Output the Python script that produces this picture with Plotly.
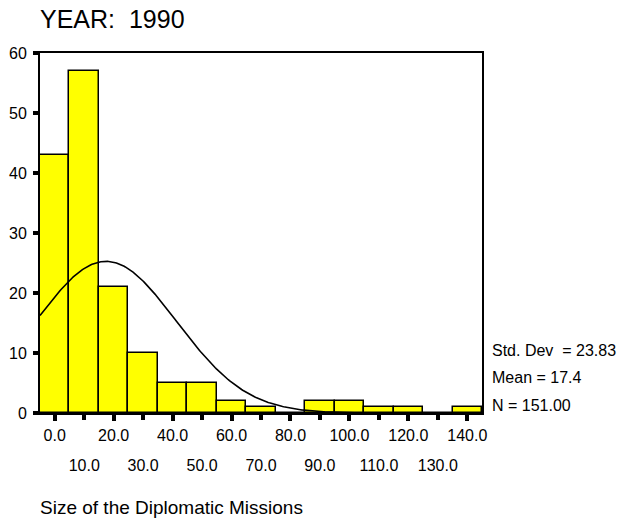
import numpy as np
import plotly.graph_objects as go

# ---- data ----
bin_centers = [0, 10, 20, 30, 40, 50, 60, 70, 80, 90, 100, 110, 120, 130, 140]
counts = [43, 57, 21, 10, 5, 5, 2, 1, 0, 2, 2, 1, 1, 0, 1]
even_ticks = [0, 20, 40, 60, 80, 100, 120, 140]
even_labels = ["0.0", "20.0", "40.0", "60.0", "80.0", "100.0", "120.0", "140.0"]
odd_ticks = [10, 30, 50, 70, 90, 110, 130]
odd_labels = ["10.0", "30.0", "50.0", "70.0", "90.0", "110.0", "130.0"]
y_ticks = [0, 10, 20, 30, 40, 50, 60]
std_dev = 23.83
mean = 17.4
n = 151
bin_width = 10

FONT = "Liberation Sans, Arial, sans-serif"

# normal curve defined by the printed statistics
xc = np.linspace(-5, 145, 400)
yc = n * bin_width / (std_dev * np.sqrt(2 * np.pi)) * np.exp(-0.5 * ((xc - mean) / std_dev) ** 2)

fig = go.Figure()
fig.add_trace(go.Bar(
    x=bin_centers, y=counts, width=bin_width,
    marker=dict(color="#ffff00", line=dict(color="black", width=1.5)),
    showlegend=False, hoverinfo="x+y",
))
fig.add_trace(go.Scatter(
    x=xc, y=yc, mode="lines", line=dict(color="black", width=1.6),
    showlegend=False, hoverinfo="skip",
))
fig.add_trace(go.Scatter(
    x=[odd_ticks[0]], y=[0], xaxis="x2", mode="markers",
    marker=dict(opacity=0), showlegend=False, hoverinfo="skip",
))

fig.update_layout(
    width=620, height=521,
    margin=dict(l=40, r=138, t=53, b=108),
    paper_bgcolor="white", plot_bgcolor="white",
    bargap=0,
    font=dict(family=FONT, color="black"),
    xaxis=dict(
        range=[-5, 145], tickvals=even_ticks, ticktext=even_labels,
        showline=True, linecolor="black", linewidth=2, mirror=True,
        ticks="outside", ticklen=6, tickwidth=4, tickcolor="black",
        showgrid=False, zeroline=False, tickfont=dict(size=16),
        ticklabelstandoff=1, automargin=False,
    ),
    xaxis2=dict(
        range=[-5, 145], overlaying="x", anchor="y", side="bottom",
        tickvals=odd_ticks, ticktext=odd_labels,
        ticks="outside", ticklen=6, tickwidth=4, tickcolor="black",
        showline=False, showgrid=False, zeroline=False, tickfont=dict(size=16),
        ticklabelstandoff=32, automargin=False,
    ),
    yaxis=dict(
        range=[0, 60], tickvals=y_ticks,
        showline=True, linecolor="black", linewidth=2, mirror=True,
        ticks="outside", ticklen=5, tickwidth=4, tickcolor="black",
        showgrid=False, zeroline=False, tickfont=dict(size=16),
        ticklabelstandoff=3, automargin=False,
    ),
    annotations=[
        dict(text="YEAR:\u00a0\u00a01990", xref="paper", yref="paper",
             x=-0.005, y=1.094, xanchor="left", yanchor="middle",
             showarrow=False, font=dict(size=25)),
        dict(text="Size of the Diplomatic Missions", xref="paper", yref="paper",
             x=-0.005, y=-0.263, xanchor="left", yanchor="middle",
             showarrow=False, font=dict(size=19)),
        dict(text="Std. Dev\u00a0 = %.2f" % std_dev, xref="paper", yref="paper",
             x=1.018, y=0.175, xanchor="left", yanchor="middle",
             showarrow=False, font=dict(size=16)),
        dict(text="Mean = %.1f" % mean, xref="paper", yref="paper",
             x=1.018, y=0.1, xanchor="left", yanchor="middle",
             showarrow=False, font=dict(size=16)),
        dict(text="N = %.2f" % n, xref="paper", yref="paper",
             x=1.018, y=0.022, xanchor="left", yanchor="middle",
             showarrow=False, font=dict(size=16)),
    ],
)

fig.write_html("out.html", config={"displayModeBar": False},
               post_script="document.body.style.margin='0px';")
